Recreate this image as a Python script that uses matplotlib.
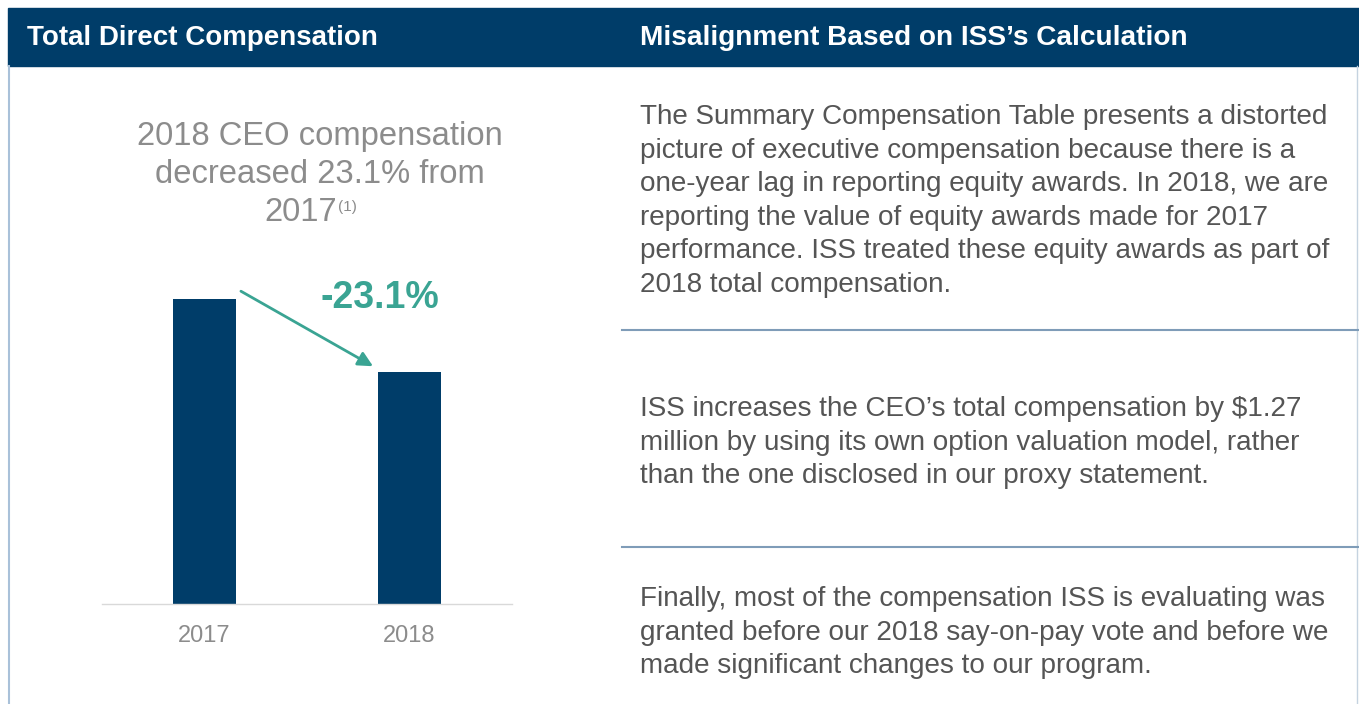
import matplotlib
matplotlib.use('Agg')

import matplotlib.pyplot as plt

# Data
years = ["2017", "2018"]
comp = [100.0, 76.0]          # 2017 indexed to 100, heights
change_label = "-23.1%"

header_left = "Total Direct Compensation"
header_right = "Misalignment Based on ISS\u2019s Calculation"
subtitle = ["2018 CEO compensation", "decreased 23.1% from"]
subtitle_last = "2017"
footnote = "(1)"

paragraphs = [
    ["The Summary Compensation Table presents a distorted",
     "picture of executive compensation because there is a",
     "one-year lag in reporting equity awards. In 2018, we are",
     "reporting the value of equity awards made for 2017",
     "performance. ISS treated these equity awards as part of",
     "2018 total compensation."],
    ["ISS increases the CEO\u2019s total compensation by $1.27",
     "million by using its own option valuation model, rather",
     "than the one disclosed in our proxy statement."],
    ["Finally, most of the compensation ISS is evaluating was",
     "granted before our 2018 say-on-pay vote and before we",
     "made significant changes to our program."],
]

NAVY = "#003d69"
TEAL = "#3aa493"
GRAY = "#8c8c8c"
TEXT = "#555555"
RULE = "#7f9cb8"

plt.rcParams['font.family'] = ['Liberation Sans', 'DejaVu Sans']

W, H = 1359, 704
fig = plt.figure(figsize=(W / 100, H / 100), dpi=100)

# Layout canvas in pixel coordinates
bg = fig.add_axes([0, 0, 1, 1])
bg.set_xlim(0, W)
bg.set_ylim(H, 0)
bg.axis('off')

# header band + frame
bg.add_patch(plt.Rectangle((8, 8), W - 8, 58, color=NAVY, zorder=1))
bg.plot([9, 9], [66, H], color="#a9c1d9", lw=1.5)
bg.plot([1357, 1357], [66, H], color="#c5d3e0", lw=1.0)
bg.text(27, 38, header_left, color="white", fontsize=20, fontweight="bold",
        va="center", ha="left")
bg.text(640, 38, header_right, color="white", fontsize=20.2, fontweight="bold",
        va="center", ha="left")

# left subtitle
for i, line in enumerate(subtitle):
    bg.text(320, 145 + 38 * i, line, color=GRAY, fontsize=23.6,
            ha="center", va="baseline")
bg.text(337, 221, subtitle_last, color=GRAY, fontsize=23.6, ha="right", va="baseline")
bg.text(338, 211, footnote, color=GRAY, fontsize=11, ha="left", va="baseline")

# right column text
starts = [117, 409, 599]
for para, y0 in zip(paragraphs, starts):
    for j, line in enumerate(para):
        bg.text(640, y0 + 33.6 * j, line, color=TEXT, fontsize=20.1,
                ha="left", va="center")

for y in [330, 547]:
    bg.plot([622, W], [y, y], color=RULE, lw=1.5)

# Bar chart
ax = fig.add_axes([102 / W, (H - 604) / H, 410 / W, 305 / H])
ax.patch.set_alpha(0)
x = list(range(len(years)))
bw = 0.312
ax.bar(x, comp, width=bw, color=NAVY, zorder=2)
ax.set_xlim(-0.5, 1.5)
ax.set_ylim(0, 100)
for s in ["top", "right", "left"]:
    ax.spines[s].set_visible(False)
ax.spines["bottom"].set_color("#d9d9d9")
ax.spines["bottom"].set_linewidth(1)
ax.set_yticks([])
ax.set_xticks(x)
ax.set_xticklabels(years, color=GRAY, fontsize=17)
ax.tick_params(axis="x", length=0, pad=15)

ax.annotate("", xy=(x[1] - bw / 2 - 0.01, comp[1] + 1.5), xytext=(x[0] + bw / 2 + 0.01, comp[0] + 3),
            arrowprops=dict(arrowstyle="-|>", color=TEAL, lw=2, mutation_scale=22),
            annotation_clip=False)
ax.text(0.856, 100.3, change_label, color=TEAL, fontsize=27, fontweight="bold",
        ha="center", va="center", clip_on=False)

fig.savefig("out.png", dpi=100)
plt.close(fig)
